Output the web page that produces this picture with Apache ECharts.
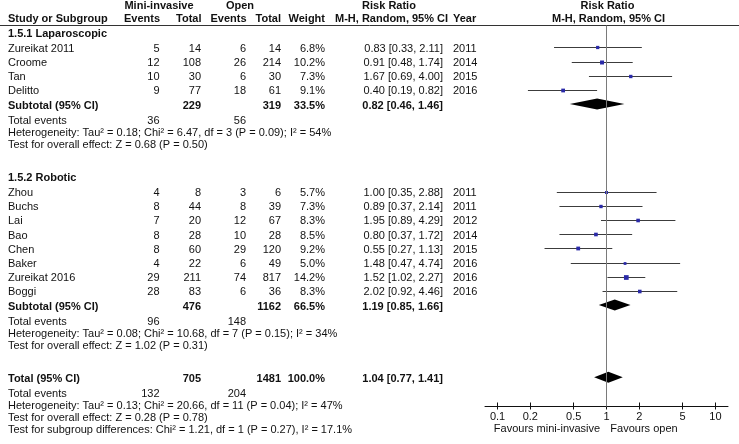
<!DOCTYPE html>
<html>
<head>
<meta charset="utf-8">
<script src="https://cdn.jsdelivr.net/npm/echarts@6/dist/echarts.min.js"></script>
<style>html,body{margin:0;padding:0;background:#fff;}#c{width:739px;height:444px;}</style>
</head>
<body>
<div id="c"></div>
<script>
// ---------- DATA ----------
const lapStudies  = ['Zureikat 2011', 'Croome', 'Tan', 'Delitto'];
const lapMiEvents = [5, 12, 10, 9];
const lapMiTotal  = [14, 108, 30, 77];
const lapOpEvents = [6, 26, 6, 18];
const lapOpTotal  = [14, 214, 30, 61];
const lapWeight   = [6.8, 10.2, 7.3, 9.1];
const lapRR       = [0.83, 0.91, 1.67, 0.40];
const lapLo       = [0.33, 0.48, 0.69, 0.19];
const lapHi       = [2.11, 1.74, 4.00, 0.82];
const lapYear     = [2011, 2014, 2015, 2016];
const lapSub      = { miTotal: 229, opTotal: 319, weight: 33.5, rr: 0.82, lo: 0.46, hi: 1.46, miEvents: 36, opEvents: 56 };
const lapHet      = 'Heterogeneity: Tau\u00b2 = 0.18; Chi\u00b2 = 6.47, df = 3 (P = 0.09); I\u00b2 = 54%';
const lapTest     = 'Test for overall effect: Z = 0.68 (P = 0.50)';

const robStudies  = ['Zhou', 'Buchs', 'Lai', 'Bao', 'Chen', 'Baker', 'Zureikat 2016', 'Boggi'];
const robMiEvents = [4, 8, 7, 8, 8, 4, 29, 28];
const robMiTotal  = [8, 44, 20, 28, 60, 22, 211, 83];
const robOpEvents = [3, 8, 12, 10, 29, 6, 74, 6];
const robOpTotal  = [6, 39, 67, 28, 120, 49, 817, 36];
const robWeight   = [5.7, 7.3, 8.3, 8.5, 9.2, 5.0, 14.2, 8.3];
const robRR       = [1.00, 0.89, 1.95, 0.80, 0.55, 1.48, 1.52, 2.02];
const robLo       = [0.35, 0.37, 0.89, 0.37, 0.27, 0.47, 1.02, 0.92];
const robHi       = [2.88, 2.14, 4.29, 1.72, 1.13, 4.74, 2.27, 4.46];
const robYear     = [2011, 2011, 2012, 2014, 2015, 2016, 2016, 2016];
const robSub      = { miTotal: 476, opTotal: 1162, weight: 66.5, rr: 1.19, lo: 0.85, hi: 1.66, miEvents: 96, opEvents: 148 };
const robHet      = 'Heterogeneity: Tau\u00b2 = 0.08; Chi\u00b2 = 10.68, df = 7 (P = 0.15); I\u00b2 = 34%';
const robTest     = 'Test for overall effect: Z = 1.02 (P = 0.31)';

const total       = { miTotal: 705, opTotal: 1481, weight: 100.0, rr: 1.04, lo: 0.77, hi: 1.41, miEvents: 132, opEvents: 204 };
const totHet      = 'Heterogeneity: Tau\u00b2 = 0.13; Chi\u00b2 = 20.66, df = 11 (P = 0.04); I\u00b2 = 47%';
const totTest     = 'Test for overall effect: Z = 0.28 (P = 0.78)';
const subgroupTest= 'Test for subgroup differences: Chi\u00b2 = 1.21, df = 1 (P = 0.27), I\u00b2 = 17.1%';

const axisTicks   = [0.1, 0.2, 0.5, 1, 2, 5, 10];
const favourLeft  = 'Favours mini-invasive';
const favourRight = 'Favours open';

// ---------- LAYOUT ----------
const FONT = '"Liberation Sans", Arial, Helvetica, sans-serif';
const FS = 11;
const TXT_DY = 1.5;
const COL = { name: 8, miEv: 159.5, miTot: 201, opEv: 246, opTot: 281, weight: 325, rr: 443, year: 453 };
const STEP = { headToStudy: 15.3, study: 14.2, subToFoot: 15.5, foot: 11.8, section: 33 };

const texts = [];
function txt(str, x, y, align, bold) {
  texts.push({
    type: 'text', x: x, y: y, silent: true,
    style: {
      text: String(str), fill: '#111',
      font: (bold ? 'bold ' : '') + FS + 'px ' + FONT,
      textAlign: align, textVerticalAlign: 'middle', align: align, verticalAlign: 'middle'
    }
  });
}
const fmtRR = (r, l, h) => r.toFixed(2) + ' [' + l.toFixed(2) + ', ' + h.toFixed(2) + ']';
const L = Math.log10;

const studyMarks = [];
const diamondMarks = [];

let y = 32;
function group(title, names, miE, miT, opE, opT, w, rr, lo, hi, yr, sub, het, test) {
  txt(title, COL.name, y + TXT_DY, 'left', true);
  y += STEP.headToStudy;
  names.forEach((n, i) => {
    const ty = y + TXT_DY;
    txt(n, COL.name, ty, 'left');
    txt(miE[i], COL.miEv, ty, 'right');
    txt(miT[i], COL.miTot, ty, 'right');
    txt(opE[i], COL.opEv, ty, 'right');
    txt(opT[i], COL.opTot, ty, 'right');
    txt(w[i].toFixed(1) + '%', COL.weight, ty, 'right');
    txt(fmtRR(rr[i], lo[i], hi[i]), COL.rr, ty, 'right');
    txt(yr[i], COL.year, ty, 'left');
    studyMarks.push([L(lo[i]), L(hi[i]), L(rr[i]), y, w[i]]);
    y += STEP.study;
  });
  summary('Subtotal (95% CI)', sub, het, test);
}
function summary(label, s, het, test, extra) {
  const ty = y + TXT_DY;
  txt(label, COL.name, ty, 'left', true);
  txt(s.miTotal, COL.miTot, ty, 'right', true);
  txt(s.opTotal, COL.opTot, ty, 'right', true);
  txt(s.weight.toFixed(1) + '%', COL.weight, ty, 'right', true);
  txt(fmtRR(s.rr, s.lo, s.hi), COL.rr, ty, 'right', true);
  diamondMarks.push([L(s.lo), L(s.hi), L(s.rr), y]);
  y += STEP.subToFoot;
  txt('Total events', COL.name, y + TXT_DY, 'left');
  txt(s.miEvents, COL.miEv, y + TXT_DY, 'right');
  txt(s.opEvents, COL.opEv, y + TXT_DY, 'right');
  y += STEP.foot;
  txt(het, COL.name, y + TXT_DY, 'left');
  y += STEP.foot;
  txt(test, COL.name, y + TXT_DY, 'left');
  if (extra) { y += STEP.foot; txt(extra, COL.name, y + TXT_DY, 'left'); }
  y += STEP.section;
}
group('1.5.1 Laparoscopic', lapStudies, lapMiEvents, lapMiTotal, lapOpEvents, lapOpTotal, lapWeight, lapRR, lapLo, lapHi, lapYear, lapSub, lapHet, lapTest);
group('1.5.2 Robotic', robStudies, robMiEvents, robMiTotal, robOpEvents, robOpTotal, robWeight, robRR, robLo, robHi, robYear, robSub, robHet, robTest);
summary('Total (95% CI)', total, totHet, totTest, subgroupTest);

// headers
txt('Mini-invasive', 159, 6, 'center', true);
txt('Open', 240, 6, 'center', true);
txt('Risk Ratio', 389, 6, 'center', true);
txt('Risk Ratio', 607.5, 6, 'center', true);
txt('Study or Subgroup', COL.name, 19, 'left', true);
txt('Events', COL.miEv + 0.5, 19, 'right', true);
txt('Total', COL.miTot + 0.5, 19, 'right', true);
txt('Events', COL.opEv + 0.5, 19, 'right', true);
txt('Total', COL.opTot, 19, 'right', true);
txt('Weight', COL.weight, 19, 'right', true);
txt('M-H, Random, 95% CI', 335, 19, 'left', true);
txt('Year', COL.year, 19, 'left', true);
txt('M-H, Random, 95% CI', 608.5, 19, 'center', true);
txt(favourLeft, 547, 429, 'center');
txt(favourRight, 644, 429, 'center');
texts.push({ type: 'line', silent: true, shape: { x1: 0, y1: 25.5, x2: 739, y2: 25.5 }, style: { stroke: '#333', lineWidth: 1 } });

// ---------- CHART ----------
const GRID_TOP = 25.5, AXIS_Y = 406.5;
const chart = echarts.init(document.getElementById('c'), null, { renderer: 'canvas' });
const tickVals = axisTicks.map(L);
const labelFmt = v => String(Number(Math.pow(10, v).toPrecision(2)));
chart.setOption({
  animation: false,
  backgroundColor: '#fff',
  grid: { left: 485, right: 11, top: GRID_TOP, bottom: 444 - AXIS_Y, containLabel: false },
  xAxis: [{
    type: 'value', min: -1.115, max: 1.115, position: 'bottom',
    axisLine: { show: true, lineStyle: { color: '#111', width: 1 } },
    axisTick: { show: true, inside: false, length: 3, customValues: tickVals, lineStyle: { color: '#111' } },
    axisLabel: { show: true, customValues: tickVals, formatter: labelFmt, margin: 5, fontSize: FS, fontFamily: FONT, color: '#111' },
    splitLine: { show: false }
  }, {
    type: 'value', min: -1.115, max: 1.115, position: 'bottom',
    axisLine: { show: false },
    axisTick: { show: true, inside: true, length: 4, customValues: tickVals, lineStyle: { color: '#111' } },
    axisLabel: { show: false },
    splitLine: { show: false }
  }],
  yAxis: { type: 'value', inverse: true, min: GRID_TOP, max: AXIS_Y, show: false },
  series: [{
    type: 'custom', xAxisIndex: 0, clip: false, silent: true,
    data: studyMarks,
    encode: { x: [0, 1, 2], y: 3 },
    renderItem: (params, api) => {
      const yy = api.value(3);
      const p1 = api.coord([api.value(0), yy]);
      const p2 = api.coord([api.value(1), yy]);
      const pc = api.coord([api.value(2), yy]);
      const s = Math.sqrt(api.value(4)) * 1.25;
      const ly = Math.round(p1[1]) + 0.5;
      return { type: 'group', children: [
        { type: 'line', shape: { x1: p1[0], y1: ly, x2: p2[0], y2: ly }, style: { stroke: '#3c3c3c', lineWidth: 1 } },
        { type: 'rect', shape: { x: pc[0] - s / 2, y: ly - s / 2, width: s, height: s }, style: { fill: '#2a2aa8' } }
      ] };
    },
    markLine: {
      silent: true, symbol: 'none', label: { show: false },
      lineStyle: { color: '#7a7a7a', type: 'solid', width: 1 },
      data: [{ xAxis: 0 }]
    },
    z: 3
  }, {
    type: 'custom', xAxisIndex: 0, clip: false, silent: true,
    data: diamondMarks,
    encode: { x: [0, 1, 2], y: 3 },
    renderItem: (params, api) => {
      const yy = api.value(3);
      const pl = api.coord([api.value(0), yy]);
      const pr = api.coord([api.value(1), yy]);
      const pc = api.coord([api.value(2), yy]);
      const h = 5.5;
      return { type: 'polygon', shape: { points: [pl, [pc[0], pc[1] - h], pr, [pc[0], pc[1] + h]] }, style: { fill: '#000' } };
    },
    z: 4
  }],
  graphic: { elements: texts }
});
</script>
</body>
</html>
